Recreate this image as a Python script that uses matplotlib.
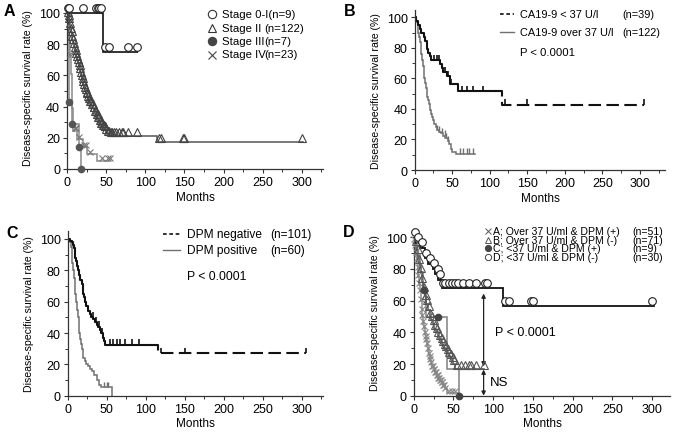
import numpy as np
import matplotlib
matplotlib.use('Agg')
import matplotlib.pyplot as plt
from matplotlib.lines import Line2D

plt.rcParams['font.family'] = ['Liberation Sans', 'DejaVu Sans']

# ---------------- data (months, survival %) ----------------
# Panel A: stages
t_a01 = [46]
s_a01 = [75.0]
end_a01 = 90
cens_a01 = [1, 3, 21, 37, 39, 41, 43, 48, 54, 78, 89]

t_a2 = [1, 2, 3, 4, 5, 6, 7, 8, 9, 10, 11, 12, 13, 14, 15, 16, 17, 18, 19, 20,
        21, 22, 23, 24, 25, 26, 27, 28, 30, 32, 34, 36, 38, 40, 42, 44, 46, 48,
        50, 52, 55, 115]
s_a2 = [98, 96, 94, 91, 88, 86, 83, 81, 78, 76, 74, 72, 70, 68, 66, 64, 62, 60,
        58, 56, 54, 52, 50, 49, 47, 46, 44, 43, 41, 39, 37, 35, 33, 31, 29, 27,
        26, 25, 23, 22, 21.3, 17.2]
end_a2 = 302
cens_a2 = [1, 2, 3, 4, 5, 6, 7, 8, 9, 10, 11, 12, 13, 14, 15, 16, 17, 18, 19,
           20, 21, 22, 23, 24, 25, 26, 27, 28, 29, 30, 31, 32, 33, 34, 35, 36,
           37, 38, 39, 40, 41, 42, 43, 44, 45, 46, 47, 48, 49, 50, 52, 54, 56,
           58, 60, 62, 66, 70, 72, 78, 90, 118, 120, 148, 150, 300]

t_a3 = [2, 3, 7, 15, 18]
s_a3 = [71.4, 42.9, 28.6, 14.3, 0]
end_a3 = 18
cens_a3 = [3, 7, 15, 18]

t_a4 = [2, 3, 4, 5, 6, 7, 8, 13, 21, 25, 38]
s_a4 = [91, 83, 72, 61, 50, 39, 24.6, 19.2, 13.9, 9.6, 5.3]
end_a4 = 55
cens_a4 = [4, 10, 12, 15, 22, 24, 30, 45, 52, 55]

labels_a = ['Stage 0-I(n=9)', 'Stage II', 'Stage III', 'Stage IV']
n_a = ['', '(n=122)', '(n=7)', '(n=23)']

# Panel B: CA19-9
t_b1 = [2, 5, 7, 9, 12, 14, 16, 18, 20, 22, 34, 36, 38, 43, 47, 58, 116]
s_b1 = [97.4, 94.9, 92.3, 89.7, 87.2, 84.6, 79.5, 76.9, 74.4, 71.8, 69.2, 66.7,
        64.1, 61.5, 56.4, 51.8, 42.7]
end_b1 = 305
cens_b1 = [26, 30, 33, 40, 45, 48, 63, 70, 78, 91, 120, 150, 305]

t_b2 = [2, 4, 5, 6, 7, 8, 9, 10, 11, 12, 13, 14, 15, 16, 17, 18, 19, 20, 21, 22,
        23, 24, 26, 28, 30, 32, 35, 38, 41, 44, 46, 48, 50, 55]
s_b2 = [97, 93, 90, 87, 84, 80, 76, 72, 68, 64, 60, 57, 54, 51, 48, 46, 43, 41,
        39, 37, 35, 33, 30, 28, 26, 25, 24, 22.5, 21, 19, 17, 14, 12, 10.8]
end_b2 = 80
cens_b2 = [30, 33, 36, 40, 42, 44, 60, 65, 70, 73, 78]

labels_b = ['CA19-9 < 37 U/l', 'CA19-9 over 37 U/l']
n_b = ['(n=39)', '(n=122)']

# Panel C: DPM
t_c1 = [3, 5, 7, 8, 9, 10, 11, 12, 13, 14, 16, 18, 19, 20, 21, 22, 24, 26, 28,
        30, 33, 35, 37, 39, 41, 43, 45, 47, 48, 116]
s_c1 = [99, 98, 96, 94, 91, 88, 86, 83, 80, 77, 74, 71, 68, 65, 63, 60, 57, 54,
        52, 50, 49, 47, 45, 44, 42, 40, 37, 35, 32.6, 27]
end_c1 = 305
cens_c1 = [32, 36, 40, 44, 54, 58, 63, 67, 73, 82, 92, 120, 150, 305]

t_c2 = [2, 4, 5, 6, 7, 8, 9, 10, 11, 12, 13, 14, 15, 16, 17, 18, 19, 20, 22, 24,
        26, 28, 31, 34, 37, 40, 43, 57]
s_c2 = [98, 95, 90, 85, 80, 75, 70, 65, 60, 55, 50, 45, 40, 36, 33, 30, 27, 24,
        22, 20, 19, 17, 16, 13, 10, 7, 5.3, 0]
end_c2 = 57
cens_c2 = [47, 50, 52]

labels_c = ['DPM negative', 'DPM positive']
n_c = ['(n=101)', '(n=60)']

# Panel D: combined
t_dA = [1, 2, 3, 4, 5, 6, 7, 8, 9, 10, 11, 12, 13, 14, 15, 16, 17, 18, 19, 20,
        21, 22, 23, 25, 27, 29, 31, 33, 35, 37, 39, 42, 57]
s_dA = [98, 94, 90, 86, 80, 75, 70, 66, 60, 54, 50, 46, 43, 39, 37, 35, 32, 29,
        26, 24, 22, 20, 18, 16, 14, 12, 10, 9, 7.5, 6, 4, 2, 0]
end_dA = 57
cens_dA = [1, 2, 3, 4, 5, 6, 7, 8, 9, 10, 11, 12, 13, 14, 15, 16, 17, 18, 19,
           20, 21, 22, 23, 24, 25, 26, 27, 28, 29, 30, 31, 32, 33, 34, 35, 36,
           37, 38, 40, 44, 48, 52]

t_dB = [1, 2, 3, 4, 5, 6, 7, 8, 9, 10, 11, 12, 13, 14, 15, 16, 18, 20, 22, 24,
        26, 28, 30, 32, 34, 36, 38, 40, 42, 44, 46, 48, 50, 52]
s_dB = [99, 97, 95, 92, 90, 87, 84, 81, 78, 75, 72, 69, 66, 63, 61, 58, 54, 50,
        48, 45, 42, 40, 38, 36, 34, 32, 30, 29, 27, 25, 24, 22, 20, 17]
end_dB = 88
cens_dB = [3, 5, 7, 9, 11, 13, 15, 17, 19, 21, 23, 25, 27, 29, 31, 33, 35, 37,
           39, 41, 43, 45, 47, 49, 51, 55, 60, 65, 70, 72, 78, 88]

t_dC = [3, 8, 12, 15, 42, 57]
s_dC = [88.9, 77.8, 66.7, 50, 16.7, 0]
end_dC = 57
cens_dC = [13, 30, 57]

t_dD = [3, 8, 14, 18, 24, 27, 31, 35, 113]
s_dD = [96.7, 93.3, 86.7, 83.3, 80, 76.7, 73.3, 67.8, 56.5]
end_dD = 302
cens_dD = [2, 5, 10, 16, 20, 26, 30, 33, 37, 40, 44, 48, 52, 56, 62, 70, 78,
           90, 92, 115, 120, 148, 150, 300]

labels_d = ['A; Over 37 U/ml & DPM (+)', 'B; Over 37 U/ml & DPM (-)',
            'C; <37 U/ml & DPM (+)', 'D; <37 U/ml & DPM (-)']
n_d = ['(n=51)', '(n=71)', '(n=9)', '(n=30)']

# ---------------- helpers ----------------
W, H = 677, 435
fig = plt.figure(figsize=(W / 100, H / 100), dpi=100)

BLACK = '#111111'


def px_axes(l, r, b, t):
    return fig.add_axes([l / W, 1 - b / H, (r - l) / W, (b - t) / H])


def style(ax, xmax):
    ax.set_xlim(0, xmax)
    ax.set_ylim(0, 105)
    for s in ['top', 'right']:
        ax.spines[s].set_visible(False)
    for s in ['left', 'bottom']:
        ax.spines[s].set_color('#333333')
        ax.spines[s].set_linewidth(0.9)
    ax.set_xticks([0, 50, 100, 150, 200, 250, 300])
    ax.set_xticks(np.arange(25, xmax, 50), minor=True)
    ax.set_yticks([0, 20, 40, 60, 80, 100])
    ax.set_yticks([10, 30, 50, 70, 90], minor=True)
    ax.tick_params(which='major', length=3, width=0.8, labelsize=9, pad=2,
                   color='#333333')
    ax.tick_params(which='minor', length=2, width=0.7, color='#333333')
    ax.set_xlabel('Months', fontsize=8.5, labelpad=2)
    ax.set_ylabel('Disease-specific survival rate (%)', fontsize=7.6,
                  labelpad=4)


def step_pts(times, surv, end):
    xs = np.r_[0, times, end]
    ys = np.r_[100, surv, surv[-1]]
    return np.repeat(xs, 2)[1:], np.repeat(ys, 2)[:-1]


def surv_at(times, surv, t):
    i = np.searchsorted(times, t, side='right')
    s = np.asarray(surv, dtype=float)
    return np.where(i == 0, 100.0, s[np.maximum(i - 1, 0)])


def km(ax, times, surv, end, color, lw, split=None, zorder=2):
    sx, sy = step_pts(times, surv, end)
    if split is None:
        ax.plot(sx, sy, color=color, lw=lw, zorder=zorder,
                solid_joinstyle='miter')
        return
    lev = surv_at(times, surv, split)
    m = sx <= split
    ax.plot(np.r_[sx[m], split], np.r_[sy[m], lev], color=color, lw=lw,
            zorder=zorder)
    ax.plot(np.r_[split, sx[~m]], np.r_[lev, sy[~m]], color=color, lw=lw,
            dashes=(6, 2.6), zorder=zorder)


def ticks(ax, times, surv, cens, color, lw, h=3.5):
    c = np.asarray(cens, dtype=float)
    lv = surv_at(times, surv, c)
    ax.vlines(c, lv, lv + h, color=color, lw=lw, zorder=3)


def marks(ax, times, surv, cens, dy=3, **kw):
    c = np.asarray(cens, dtype=float)
    lv = surv_at(times, surv, c)
    ax.plot(c, lv + dy, ls='none', zorder=4, clip_on=False, **kw)


def ftext(x, y, s, **kw):
    fig.text(x / W, 1 - y / H, s, va='center', ha='left', **kw)


def fline(x0, x1, y, **kw):
    fig.add_artist(Line2D([x0 / W, x1 / W], [1 - y / H, 1 - y / H],
                          transform=fig.transFigure, **kw))


def fmark(x, y, **kw):
    fig.add_artist(Line2D([x / W], [1 - y / H], transform=fig.transFigure,
                          ls='none', **kw))


# ---------------- Panel A ----------------
ax = px_axes(67, 323, 170, 170 - 105 * 1.56)
style(ax, 327)
km(ax, t_a4, s_a4, end_a4, '#8a8a8a', 1.1)
km(ax, t_a3, s_a3, end_a3, '#8a8a8a', 1.1)
km(ax, t_a2, s_a2, end_a2, '#555555', 1.1)
km(ax, t_a01, s_a01, end_a01, BLACK, 1.2)
marks(ax, t_a2, s_a2, cens_a2, dy=2.5, marker='^', ms=6, mfc='none',
      mec='#444444', mew=0.8)
marks(ax, t_a4, s_a4, cens_a4, dy=1.5, marker='x', ms=5, mec='#777777',
      mew=0.8)
marks(ax, t_a3, s_a3, cens_a3, dy=0, marker='o', ms=4.5, mfc='#555555',
      mec='#555555')
ticks(ax, t_a01, s_a01, cens_a01, BLACK, 1.0)
marks(ax, t_a01, s_a01, cens_a01, dy=3.5, marker='o', ms=5.5, mfc='white',
      mec='#222222', mew=0.8)

leg_a = [dict(marker='o', mfc='none', mec='#333333'),
         dict(marker='^', mfc='none', mec='#333333'),
         dict(marker='o', mfc='#444444', mec='#444444'),
         dict(marker='x', mec='#444444')]
for i, (lab, n, mk) in enumerate(zip(labels_a, n_a, leg_a)):
    y = 15 + i * 13.5
    fmark(211.7, y, ms=6, mew=0.8, **mk)
    ftext(221.5, y, lab, fontsize=8.2)
    if n:
        ftext(264.5, y, n, fontsize=8.2)
fig.text(4 / W, 1 - 12 / H, 'A', fontsize=11.5, fontweight='bold',
         va='center', ha='left')

# ---------------- Panel B ----------------
ax = px_axes(414.7, 665.3, 171, 171 - 105 * 1.527)
style(ax, 334)
km(ax, t_b2, s_b2, end_b2, '#707070', 1.1)
ticks(ax, t_b2, s_b2, cens_b2, '#707070', 1.0)
km(ax, t_b1, s_b1, end_b1, BLACK, 1.5, split=107)
ticks(ax, t_b1, s_b1, cens_b1, BLACK, 1.2)

fline(500.3, 513.7, 15, color=BLACK, lw=1.2, dashes=(2.2, 1.6))
fline(500.3, 513.7, 33.3, color='#707070', lw=1.0)
for i, (lab, n) in enumerate(zip(labels_b, n_b)):
    y = 15 + i * 18.3
    ftext(520.3, y, lab, fontsize=7.9)
    ftext(622, y, n, fontsize=7.9)
ftext(520.3, 53.3, 'P < 0.0001', fontsize=8.2)
fig.text(344 / W, 1 - 12 / H, 'B', fontsize=11.5, fontweight='bold',
         va='center', ha='left')

# ---------------- Panel C ----------------
ax = px_axes(67.7, 322.7, 396.7, 396.7 - 105 * 1.567)
style(ax, 327)
km(ax, t_c2, s_c2, end_c2, '#707070', 1.1)
ticks(ax, t_c2, s_c2, cens_c2, '#707070', 1.0)
km(ax, t_c1, s_c1, end_c1, BLACK, 1.5, split=107)
ticks(ax, t_c1, s_c1, cens_c1, BLACK, 1.2)

fline(163.3, 180, 235, color=BLACK, lw=1.2, dashes=(2.2, 1.6))
fline(163.3, 180, 251, color='#707070', lw=1.0)
for i, (lab, n) in enumerate(zip(labels_c, n_c)):
    y = 235 + i * 16
    ftext(186.7, y, lab, fontsize=8.6)
    ftext(270, y, n, fontsize=8.6)
ftext(186.7, 276.7, 'P < 0.0001', fontsize=8.8)
fig.text(6 / W, 1 - 234 / H, 'C', fontsize=11.5, fontweight='bold',
         va='center', ha='left')

# ---------------- Panel D ----------------
ax = px_axes(413.7, 670.3, 396.7, 396.7 - 105 * 1.584)
style(ax, 323)
km(ax, t_dA, s_dA, end_dA, '#8a8a8a', 1.1)
km(ax, t_dC, s_dC, end_dC, '#808080', 1.1)
km(ax, t_dB, s_dB, end_dB, '#555555', 1.1)
km(ax, t_dD, s_dD, end_dD, BLACK, 1.3)
marks(ax, t_dA, s_dA, cens_dA, dy=1, marker='x', ms=4.5, mec='#888888',
      mew=0.8)
marks(ax, t_dB, s_dB, cens_dB, dy=2.5, marker='^', ms=5.5, mfc='none',
      mec='#555555', mew=0.8)
marks(ax, t_dC, s_dC, cens_dC, dy=0, marker='o', ms=4.5, mfc='#444444',
      mec='#444444')
ticks(ax, t_dD, s_dD, cens_dD, BLACK, 1.0)
marks(ax, t_dD, s_dD, cens_dD, dy=3.5, marker='o', ms=5.5, mfc='white',
      mec='#222222', mew=0.8)

arrow_kw = dict(arrowstyle='<|-|>', color='#222222', lw=0.9,
                mutation_scale=6, shrinkA=0, shrinkB=0)
ax.annotate('', xy=(88, 64.5), xytext=(88, 18.5), arrowprops=arrow_kw)
ax.annotate('', xy=(88, 16.5), xytext=(88, 0), arrowprops=arrow_kw,
            annotation_clip=False)
ax.text(102, 40, 'P < 0.0001', fontsize=9, va='center', ha='left')
ax.text(96, 8.5, 'NS', fontsize=9.5, va='center', ha='left')

leg_d = [dict(marker='x', mec='#555555'),
         dict(marker='^', mfc='none', mec='#555555'),
         dict(marker='o', mfc='#444444', mec='#444444'),
         dict(marker='o', mfc='none', mec='#444444')]
for i, (lab, n, mk) in enumerate(zip(labels_d, n_d, leg_d)):
    y = 232 + i * 8.7
    fmark(488, y, ms=4.5, mew=0.7, **mk)
    ftext(493, y, lab, fontsize=7.6)
    ftext(632, y, n, fontsize=7.6)
fig.text(343 / W, 1 - 233 / H, 'D', fontsize=11.5, fontweight='bold',
         va='center', ha='left')

fig.savefig('out.png', dpi=100)
